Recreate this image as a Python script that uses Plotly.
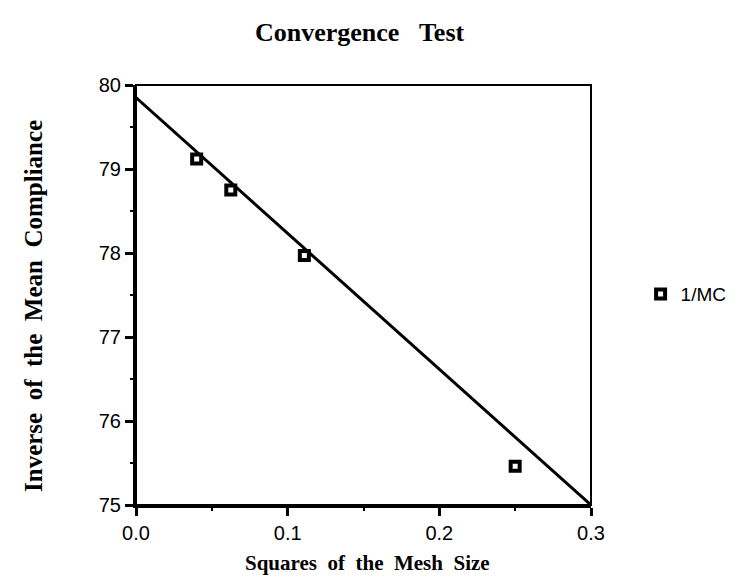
import plotly.graph_objects as go

# Data
mesh_sq = [0.04, 0.0625, 0.111, 0.25]
inv_mc = [79.12, 78.75, 77.97, 75.46]
fit_x = [0.0, 0.3]
fit_y = [79.85, 75.0]

x_ticks = [0.0, 0.1, 0.2, 0.3]
x_tick_text = ["0.0", "0.1", "0.2", "0.3"]
y_ticks = [75, 76, 77, 78, 79, 80]

NB = "\u00a0"

fig = go.Figure()
fig.add_trace(go.Scatter(x=fit_x, y=fit_y, mode="lines",
                         line=dict(color="black", width=3),
                         showlegend=False, hoverinfo="skip"))
fig.add_trace(go.Scatter(x=mesh_sq, y=inv_mc, mode="markers", name="1/MC",
                         marker=dict(symbol="square-open", size=9, color="black",
                                     line=dict(width=4, color="black"))))

serif = "Liberation Serif, Times New Roman, serif"
sans = "Liberation Sans, Arial, sans-serif"

def spaced(words, n):
    return (NB * n).join(words)

fig.update_layout(
    width=736, height=583,
    margin=dict(l=128, r=139, t=77, b=86),
    paper_bgcolor="white", plot_bgcolor="white",
    showlegend=True,
    legend=dict(x=1.109, y=0.502, xanchor="left", yanchor="middle",
                font=dict(family=sans, size=19, color="black"),
                bgcolor="rgba(0,0,0,0)"),
    font=dict(family=sans, color="black"),
    shapes=[dict(type="rect", xref="paper", yref="paper", x0=0, x1=1, y0=0, y1=1,
                 line=dict(color="black", width=2), layer="above")],
    annotations=[
        dict(text="<b>" + spaced(["Convergence", "Test"], 3) + "</b>",
             xref="paper", yref="paper", x=0.4925, y=1.126,
             xanchor="center", yanchor="middle", showarrow=False,
             font=dict(family=serif, size=26, color="black")),
        dict(text="<b>" + spaced(["Squares", "of", "the", "Mesh", "Size"], 2) + "</b>",
             xref="paper", yref="paper", x=0.5096, y=-0.138,
             xanchor="center", yanchor="middle", showarrow=False,
             font=dict(family=serif, size=21, color="black")),
        dict(text="<b>" + spaced(["Inverse", "of", "the", "Mean", "Compliance"], 2) + "</b>",
             xref="paper", yref="paper", x=-0.224, y=0.474, textangle=-90,
             xanchor="center", yanchor="middle", showarrow=False,
             font=dict(family=serif, size=25, color="black")),
    ],
)

fig.update_xaxes(
    range=[0, 0.3], tickvals=x_ticks, ticktext=x_tick_text,
    showgrid=False, zeroline=False,
    showline=True, linecolor="black", linewidth=3, mirror=False,
    ticks="outside", ticklen=8, tickwidth=3, tickcolor="black",
    minor=dict(dtick=0.05, ticks="outside", ticklen=3, tickwidth=2, tickcolor="black", showgrid=False),
    tickfont=dict(family=sans, size=20, color="black"),
)
fig.update_yaxes(
    range=[75, 80], tickvals=y_ticks,
    showgrid=False, zeroline=False,
    showline=True, linecolor="black", linewidth=3, mirror=False,
    ticks="outside", ticklen=8, tickwidth=3, tickcolor="black",
    minor=dict(dtick=0.5, ticks="outside", ticklen=3, tickwidth=2, tickcolor="black", showgrid=False),
    tickfont=dict(family=sans, size=20, color="black"),
)

fig.write_html("out.html")
